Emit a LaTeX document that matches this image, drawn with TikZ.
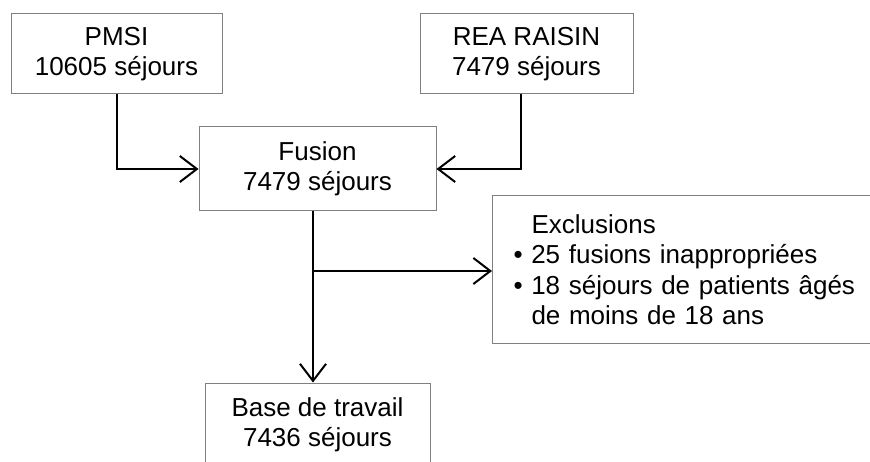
\documentclass[tikz,border=0pt]{standalone}
\usepackage{fontspec}
\setmainfont{Liberation Sans}
\usetikzlibrary{arrows.meta}
\begin{document}
\begin{tikzpicture}[x=1pt,y=-1pt,
  box/.style={draw=gray, line width=1pt, rectangle, align=center,
    font=\fontsize{26}{30.5}\selectfont, inner sep=0pt},
  conn/.style={line width=2pt, -{Straight Barb[length=17pt,width=26pt]}}]
\useasboundingbox (0,0) rectangle (870,462);
\clip (0,0) rectangle (870,462);
\node[box, minimum width=211pt, minimum height=80pt] (pmsi) at (116.5,54) {PMSI\\10605 séjours};
\node[box, minimum width=213pt, minimum height=80pt] (rea) at (526.5,54) {REA RAISIN\\7479 séjours};
\node[box, minimum width=237pt, minimum height=84pt] (fusion) at (317.5,169) {Fusion\\7479 séjours};
\node[box, minimum width=225pt, minimum height=84pt] (base) at (317.5,425) {Base de travail\\7436 séjours};
\node[box, anchor=north west, text width=380pt, align=left, inner xsep=21pt,
  minimum height=148pt] (excl) at (492,195)
  {\hspace*{18pt}Exclusions\\• 25 fusions inappropriées\\• 18 séjours de patients âgés\\\hspace*{18pt}de moins de 18 ans};
\coordinate (readown) at (521,94);
\coordinate (fusdown) at (313,211);
\coordinate (branch) at (313,271);
\draw[conn] (pmsi.south) |- (fusion.west);
\draw[conn] (readown) |- (fusion.east);
\draw[conn] (fusdown) -- (fusdown |- base.north);
\draw[conn] (branch) -- (branch -| excl.west);
\end{tikzpicture}
\end{document}
